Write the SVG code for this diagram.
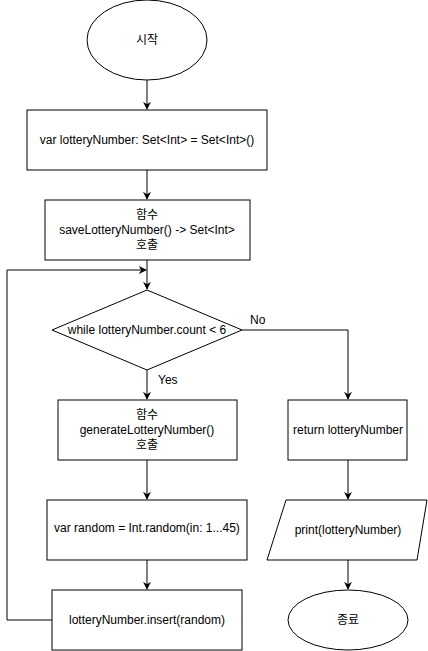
<svg xmlns="http://www.w3.org/2000/svg" width="428" height="651" viewBox="0 0 428 651">
<defs>
<style>
.s{fill:#fff;stroke:#000;stroke-width:1}
.c{fill:none;stroke:#000;stroke-width:1}
text{font-family:"Liberation Sans","Noto Sans CJK KR",sans-serif;font-size:12px;fill:#000;text-anchor:middle;dominant-baseline:central}
.l{text-anchor:start}
</style>
<marker id="a" viewBox="0 0 10 10" refX="9" refY="5" markerWidth="8" markerHeight="8" markerUnits="userSpaceOnUse" orient="auto">
<path d="M0,0 L10,5 L0,10 L3,5 Z" fill="#000"/>
</marker>
</defs>
<rect width="428" height="651" fill="#fff"/>
<g id="connectors">
<path class="c" d="M147,80 V109" marker-end="url(#a)"/>
<path class="c" d="M147,170 V199" marker-end="url(#a)"/>
<path class="c" d="M147,260 V289" marker-end="url(#a)"/>
<path class="c" d="M147,370 V399" marker-end="url(#a)"/>
<path class="c" d="M147,460 V499" marker-end="url(#a)"/>
<path class="c" d="M147,560 V589" marker-end="url(#a)"/>
<path class="c" d="M52,620 H7 V270 H146" marker-end="url(#a)"/>
<path class="c" d="M242,330 H348 V399" marker-end="url(#a)"/>
<path class="c" d="M348,460 V499" marker-end="url(#a)"/>
<path class="c" d="M348,560 V589" marker-end="url(#a)"/>
<text x="158" y="380" class="l">Yes</text>
<text x="250" y="320" class="l">No</text>
</g>
<g id="start">
<ellipse class="s" cx="147" cy="40" rx="60" ry="40"/>
<text x="147" y="40">시작</text>
</g>
<g id="init">
<rect class="s" x="27" y="110" width="240" height="60"/>
<text x="147" y="140">var lotteryNumber: Set&lt;Int&gt; = Set&lt;Int&gt;()</text>
</g>
<g id="save">
<rect class="s" x="45" y="200" width="205" height="60"/>
<text x="147" y="215">함수</text>
<text x="147" y="230">saveLotteryNumber() -&gt; Set&lt;Int&gt;</text>
<text x="147" y="245">호출</text>
</g>
<g id="while">
<path class="s" d="M147,290 L242,330 L147,370 L52,330 Z"/>
<text x="147" y="330">while lotteryNumber.count &lt; 6</text>
</g>
<g id="generate">
<rect class="s" x="58" y="400" width="179" height="60"/>
<text x="147" y="415">함수</text>
<text x="147" y="430">generateLotteryNumber()</text>
<text x="147" y="445">호출</text>
</g>
<g id="random">
<rect class="s" x="47" y="500" width="200" height="60"/>
<text x="147" y="528">var random = Int.random(in: 1...45)</text>
</g>
<g id="insert">
<rect class="s" x="52" y="590" width="190" height="60"/>
<text x="147" y="620">lotteryNumber.insert(random)</text>
</g>
<g id="return">
<rect class="s" x="288" y="400" width="119" height="60"/>
<text x="348" y="430">return lotteryNumber</text>
</g>
<g id="print">
<path class="s" d="M286,500 L427,500 L417,560 L267,560 Z"/>
<text x="348" y="530">print(lotteryNumber)</text>
</g>
<g id="end">
<ellipse class="s" cx="348" cy="620" rx="60" ry="30"/>
<text x="348" y="620">종료</text>
</g>
</svg>
